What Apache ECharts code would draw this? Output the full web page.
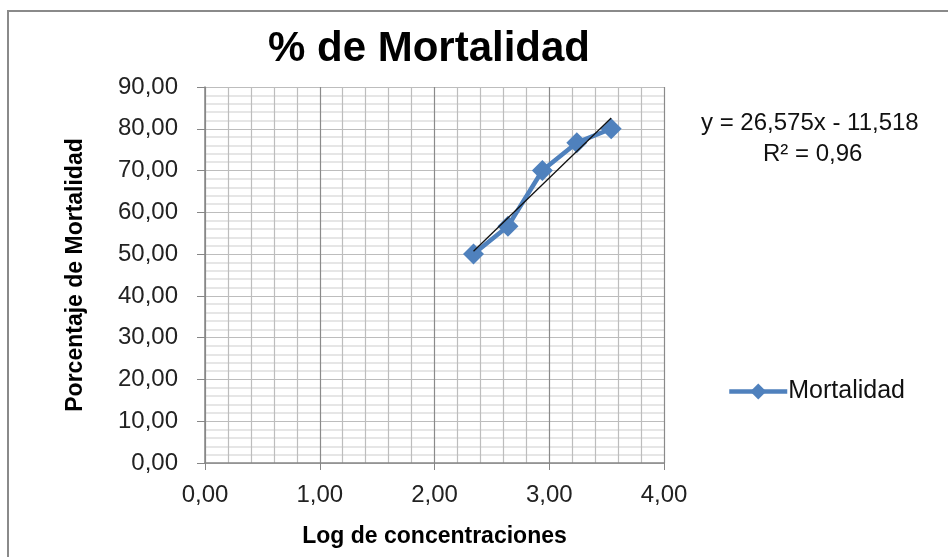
<!DOCTYPE html>
<html>
<head>
<meta charset="utf-8">
<script src="https://cdn.jsdelivr.net/npm/echarts@6/dist/echarts.min.js"></script>
<style>html,body{margin:0;padding:0;background:#fff}#c{width:948px;height:557px}</style>
</head>
<body>
<div id="c"></div>
<script>
var logConc = [2.34, 2.64, 2.94, 3.24, 3.54];
var mortalidad = [50.00, 56.67, 70.00, 76.67, 80.00];
var trendX = [2.34, 3.54];
var trendY = [50.67, 82.56];
var equationText = 'y = 26,575x - 11,518';
var r2Text = 'R² = 0,96';
var FONT = '"Liberation Sans", Arial, sans-serif';

function fmt(v){ return v.toFixed(2).replace('.', ','); }

var chart = echarts.init(document.getElementById('c'), null, {renderer:'canvas'});
chart.setOption({
  animation: false,
  backgroundColor: '#fff',
  title: {
    text: '% de Mortalidad',
    left: 424, top: 23, textAlign: 'center',
    textStyle: {fontFamily: FONT, fontSize: 42, fontWeight: 'bold', color: '#000'}
  },
  legend: {
    data: ['Mortalidad'],
    left: 722, top: 374, orient: 'vertical',
    itemWidth: 58, itemHeight: 20, itemGap: 0,
    lineStyle: {width: 4.5, color: '#4F81BD'},
    itemStyle: {color: '#4F81BD'},
    textStyle: {fontFamily: FONT, fontSize: 25, color: '#111', padding: [0,0,0,-4]}
  },
  grid: {left: 205, right: 284, top: 87, bottom: 94, containLabel: false},
  xAxis: {
    type: 'value', min: 0, max: 4, interval: 1,
    name: 'Log de concentraciones', nameLocation: 'middle', nameGap: 62,
    nameTextStyle: {fontFamily: FONT, fontSize: 23, fontWeight: 'bold', color: '#000'},
    axisLine: {show: true, lineStyle: {color: '#868686', width: 1.5}},
    axisTick: {show: true, inside: false, length: 7, lineStyle: {color: '#868686'}},
    axisLabel: {margin: 20, formatter: fmt, fontFamily: FONT, fontSize: 24, color: '#222'},
    splitLine: {show: true, lineStyle: {color: '#8a8a8a', width: 1.2}},
    minorTick: {show: false, splitNumber: 5},
    minorSplitLine: {show: true, lineStyle: {color: '#bdbdbd', width: 1.2}}
  },
  yAxis: {
    type: 'value', min: 0, max: 90, interval: 10,
    name: 'Porcentaje de Mortalidad', nameLocation: 'middle', nameGap: 118,
    nameTextStyle: {fontFamily: FONT, fontSize: 23, fontWeight: 'bold', color: '#000'},
    axisLine: {show: true, lineStyle: {color: '#868686', width: 1.5}},
    axisTick: {show: true, inside: false, length: 8, lineStyle: {color: '#868686'}},
    axisLabel: {margin: 27, formatter: fmt, fontFamily: FONT, fontSize: 24, color: '#222'},
    splitLine: {show: true, lineStyle: {color: '#bdbdbd', width: 1.2}},
    minorTick: {show: false, splitNumber: 5},
    minorSplitLine: {show: true, lineStyle: {color: '#dedede', width: 1.6}}
  },
  graphic: [
    {type: 'rect', z: -10, silent: true, shape: {x: 8, y: 11, width: 1200, height: 1200},
     style: {fill: 'none', stroke: '#8a8a8a', lineWidth: 2}},
    {type: 'text', left: 701, top: 111, silent: true,
     style: {text: equationText, fontFamily: FONT, fontSize: 24, fill: '#111'}},
    {type: 'text', left: 763, top: 142, silent: true,
     style: {text: r2Text, fontFamily: FONT, fontSize: 24, fill: '#111'}}
  ],
  series: [
    {
      name: 'Mortalidad', type: 'line',
      data: logConc.map(function(x, i){ return [x, mortalidad[i]]; }),
      color: '#4F81BD',
      lineStyle: {color: '#4F81BD', width: 4.5},
      itemStyle: {color: '#4F81BD'},
      symbol: 'diamond', symbolSize: 21, showSymbol: true, z: 3
    },
    {
      name: 'Tendencia', type: 'line',
      data: trendX.map(function(x, i){ return [x, trendY[i]]; }),
      lineStyle: {color: '#111', width: 1.3},
      symbol: 'none', silent: true, z: 4
    }
  ]
});
</script>
</body>
</html>
